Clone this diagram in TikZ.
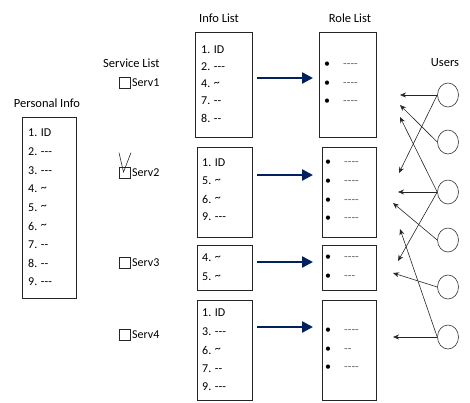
\documentclass[tikz,border=0pt]{standalone}
\usepackage{fontspec}
\setmainfont{Carlito}[Ligatures=TeXOff]
\usepackage{tikz}
\usetikzlibrary{arrows.meta, shapes.geometric}
\definecolor{navy}{RGB}{0,32,96}
\tikzset{
  title/.style={font=\fontsize{12.5}{15}\selectfont, inner sep=0pt},
  entry/.style={anchor=west, font=\fontsize{12}{14}\selectfont, inner sep=0pt},
  listbox/.style={draw=black!85, line width=0.8pt, anchor=north west, inner sep=0pt},
  tick/.style={draw=black!85, line width=0.6pt, minimum size=11pt, inner sep=0pt},
  flow/.style={-{Triangle[length=11pt, width=11pt]}, line width=2.4pt, navy},
  user/.style={ellipse, draw=black!80, line width=0.6pt, minimum width=21pt, minimum height=24pt, inner sep=0pt},
  link/.style={-{Stealth[length=6pt, width=5pt]}, line width=0.6pt, black!85}
}
\newcommand{\rolerow}[1]{\makebox[19pt][l]{\textbullet}{\color{black!60}#1}}
\newcommand{\wave}{\raisebox{1.5pt}{\textasciitilde}}

\begin{document}
\begin{tikzpicture}[x=1pt, y=-1pt]
  \useasboundingbox (0,0) rectangle (470,402);
  % titles
  \node[title] (ttl-pi) at (47,103) {Personal Info};
  \node[title, anchor=west] (ttl-sl) at (103,63) {Service List};
  \node[title] (ttl-il) at (219,18) {Info List};
  \node[title] (ttl-rl) at (350,18) {Role List};
  \node[title] (ttl-us) at (445,63) {Users};

  % personal info
  \node[listbox, minimum width=54pt, minimum height=181pt] (pinfo) at (22,117) {};
  \foreach \t [count=\i] in {1. ID, 2. ---, 3. ---, 4. \wave, 5. \wave,
      6. \wave, 7. --, 8. --, 9. ---}
    \node[entry] (pinfo-\i) at (28,{133+18.6*(\i-1)}) {\t};

  % service list
  \foreach \y [count=\i] in {83,173,263,335} {
    \node[tick] (box-\i) at (124.5,\y) {};
    \node[entry] (serv-\i) at (132,\y) {Serv\i};
  }
  \draw[line width=0.6pt, black!85] ([xshift=-5.5pt, yshift=14.5pt]box-2.north)
    -- ([xshift=-1pt, yshift=1pt]box-2.center) -- ([xshift=6.5pt, yshift=14.5pt]box-2.north);

  % info lists
  \node[listbox, minimum width=57pt, minimum height=105pt] (info-1) at (195,32) {};
  \foreach \t [count=\i] in {1. ID, 2. ---, 4. \wave, 7. --, 8. --}
    \node[entry] (info-1-\i) at (201,{50+17*(\i-1)}) {\t};
  \node[listbox, minimum width=55pt, minimum height=90pt] (info-2) at (197,147) {};
  \foreach \t [count=\i] in {1. ID, 5. \wave, 6. \wave, 9. ---}
    \node[entry] (info-2-\i) at (202,{163+18*(\i-1)}) {\t};
  \node[listbox, minimum width=55pt, minimum height=45pt] (info-3) at (197,245) {};
  \foreach \t [count=\i] in {4. \wave, 5. \wave}
    \node[entry] (info-3-\i) at (202,{258+19*(\i-1)}) {\t};
  \node[listbox, minimum width=55pt, minimum height=100pt] (info-4) at (197,300) {};
  \foreach \t [count=\i] in {1. ID, 3. ---, 6. \wave, 7. --, 9. ---}
    \node[entry] (info-4-\i) at (202,{313+18.5*(\i-1)}) {\t};

  % role lists
  \node[listbox, minimum width=57pt, minimum height=105pt] (role-1) at (319,32) {};
  \foreach \t [count=\i] in {----, ----, ----}
    \node[entry] (role-1-\i) at (324,{65+18.5*(\i-1)}) {\rolerow{\t}};
  \node[listbox, minimum width=54pt, minimum height=90pt] (role-2) at (322,147) {};
  \foreach \t [count=\i] in {----, ----, ----, ----}
    \node[entry] (role-2-\i) at (325,{163+18.7*(\i-1)}) {\rolerow{\t}};
  \node[listbox, minimum width=54pt, minimum height=45pt] (role-3) at (322,245) {};
  \foreach \t [count=\i] in {----, ---}
    \node[entry] (role-3-\i) at (325,{258+19*(\i-1)}) {\rolerow{\t}};
  \node[listbox, minimum width=54pt, minimum height=100pt] (role-4) at (322,300) {};
  \foreach \t [count=\i] in {----, --, ----}
    \node[entry] (role-4-\i) at (325,{331+18.5*(\i-1)}) {\rolerow{\t}};

  % info list -> role list
  \foreach \y [count=\i] in {78,175,262,327} {
    \coordinate (from-\i) at (257,\y);
    \coordinate (to-\i) at (313,\y);
    \draw[flow] (from-\i) -- (to-\i);
  }

  % users
  \foreach \y [count=\i] in {95,142,192,240,287,337}
    \node[user] (user-\i) at (448,\y) {};
  \foreach \u/\tx/\ty [count=\k] in {1/400/95, 1/399/173, 2/400/105, 3/400/117, 3/398/192,
      3/398/261, 4/393/203, 5/393/273, 6/400/229, 6/393/337} {
    \coordinate (hit-\k) at (\tx,\ty);
    \draw[link] (user-\u.west) -- (hit-\k);
  }
\end{tikzpicture}
\end{document}
